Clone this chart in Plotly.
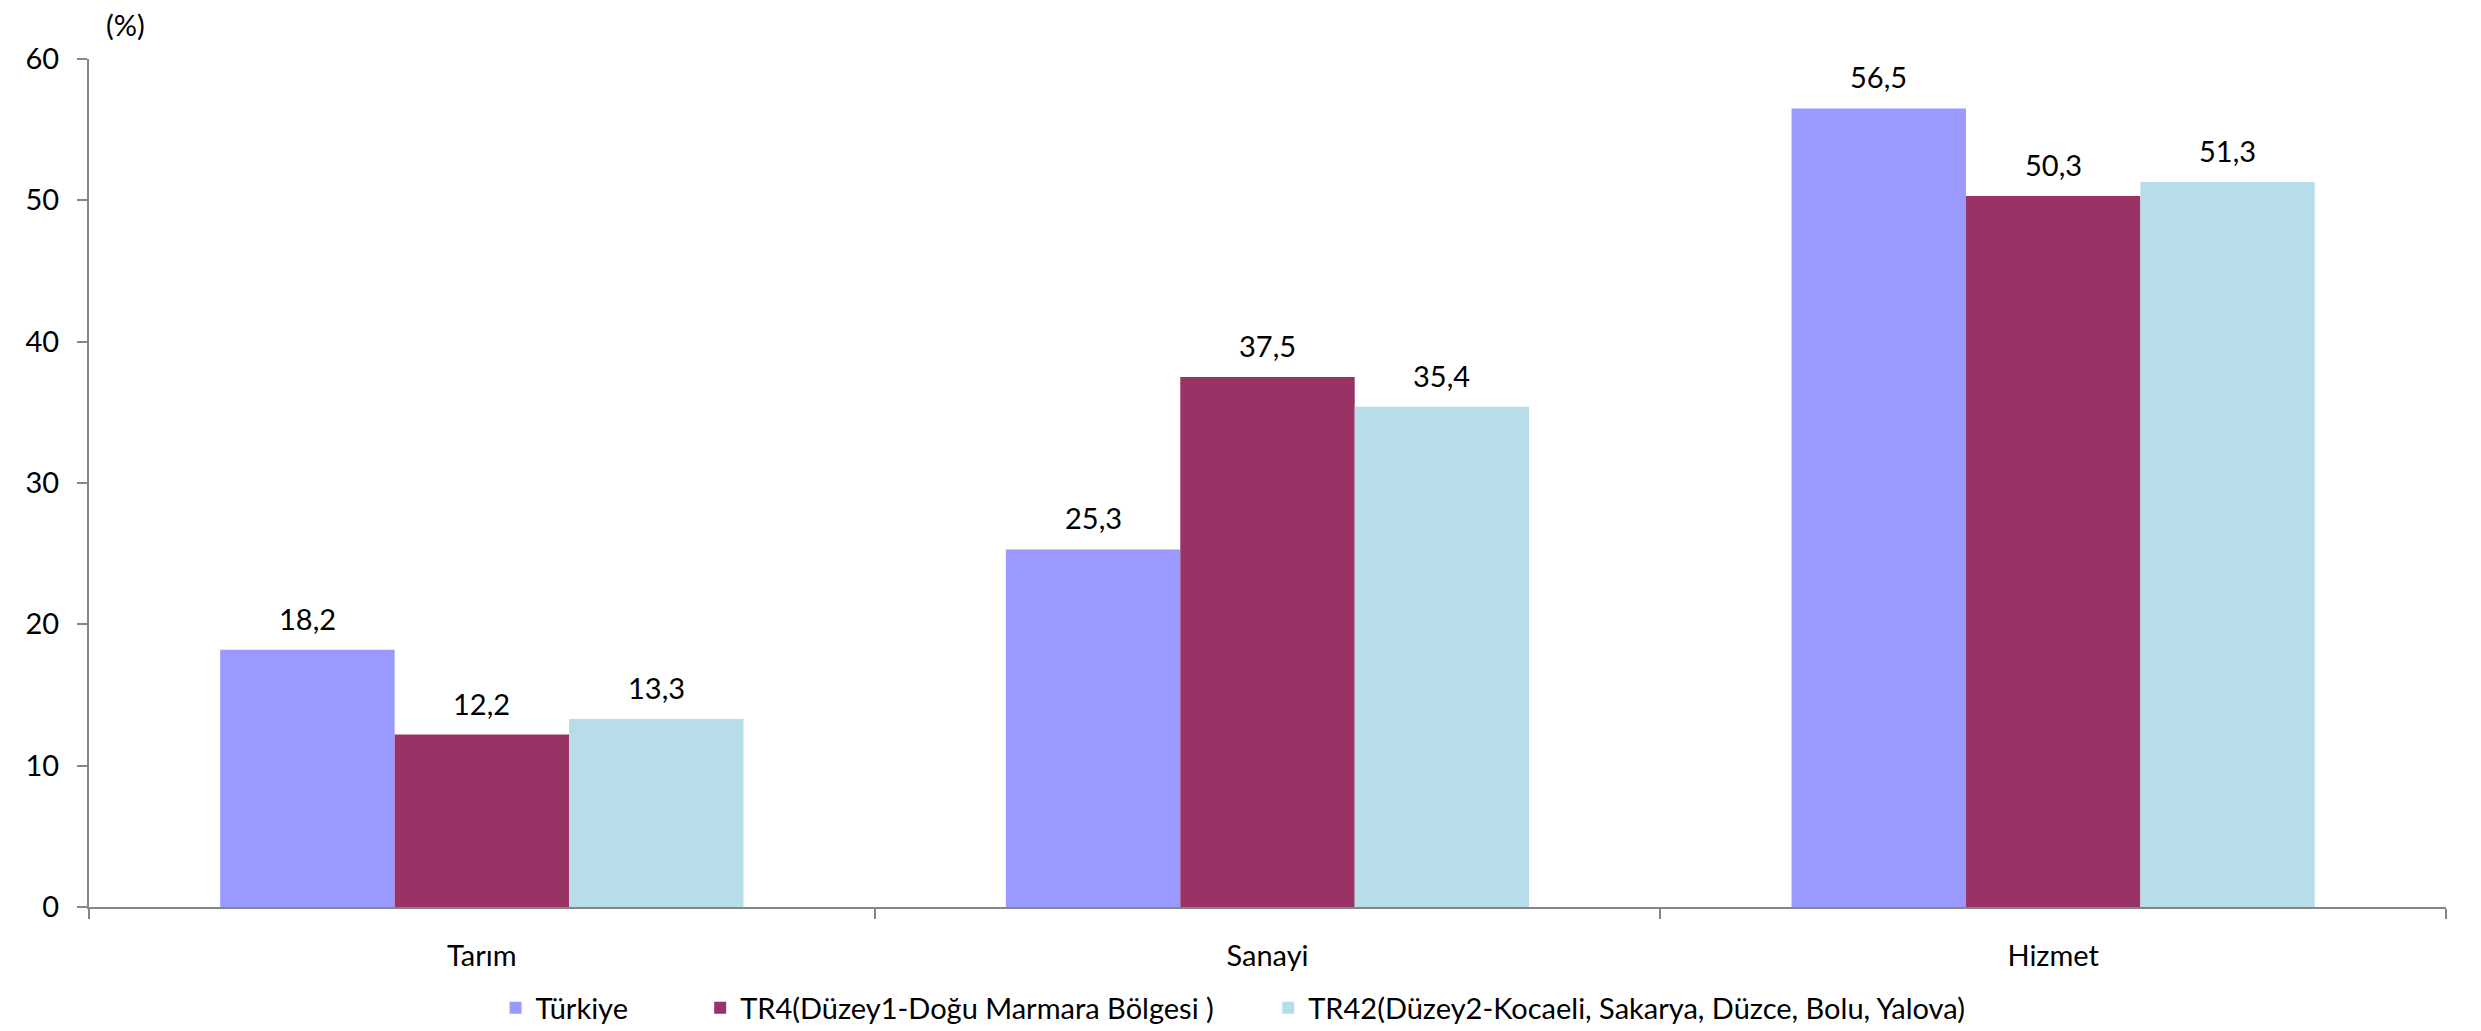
import plotly.graph_objects as go

categories = ["Tarım", "Sanayi", "Hizmet"]
series_names = [
    "Türkiye",
    "TR4(Düzey1-Doğu Marmara Bölgesi )",
    "TR42(Düzey2-Kocaeli, Sakarya, Düzce, Bolu, Yalova)",
]
turkiye = [18.2, 25.3, 56.5]
tr4 = [12.2, 37.5, 50.3]
tr42 = [13.3, 35.4, 51.3]
y_ticks = [0, 10, 20, 30, 40, 50, 60]

colors = ["#9999FF", "#993366", "#B7DEE8"]
FONT = "Lato"
FS = 29

# page body has an 8px margin; figure offset compensated in margins
W, H = 2465, 1031
ML, MR, MT, MB = 81, 27, 51, 132
BARGAP = 0.334
plot_w = W - ML - MR
bar_px = plot_w / len(categories) * (1 - BARGAP) / len(series_names)

legend_x = [0.1725, 0.2593, 0.5003]
legend_keys = ["legend", "legend2", "legend3"]

fig = go.Figure()
annotations = []
all_vals = [turkiye, tr4, tr42]
for i, (name, vals, col) in enumerate(zip(series_names, all_vals, colors)):
    fig.add_trace(go.Bar(
        x=categories, y=vals, name=name,
        marker=dict(color=col, line=dict(width=0)),
        legend=legend_keys[i], showlegend=True,
    ))
    for c, v in zip(categories, vals):
        annotations.append(dict(
            x=c, y=v, xref="x", yref="y", text=f"{v:.1f}".replace(".", ","),
            showarrow=False, xanchor="center", yanchor="bottom",
            xshift=(i - 1) * bar_px, yshift=12,
            font=dict(family=FONT, size=FS, color="#000000"),
        ))

annotations.append(dict(text="(%)", xref="paper", yref="paper", x=0.0153, y=1.0,
                        xanchor="center", yanchor="middle", yshift=35, showarrow=False,
                        font=dict(family=FONT, size=FS)))

legend_common = dict(orientation="h", xanchor="left", yref="container", y=1 - 1000 / H,
                     yanchor="middle", font=dict(family=FONT, size=FS),
                     bgcolor="rgba(0,0,0,0)")

fig.update_layout(
    width=W, height=H,
    margin=dict(l=ML, r=MR, t=MT, b=MB, autoexpand=False),
    paper_bgcolor="white", plot_bgcolor="white",
    barmode="group", bargap=BARGAP, bargroupgap=0,
    separators=",.",
    font=dict(family=FONT, size=FS, color="#000000"),
    legend=dict(x=legend_x[0], **legend_common),
    legend2=dict(x=legend_x[1], **legend_common),
    legend3=dict(x=legend_x[2], **legend_common),
    xaxis=dict(showline=True, linecolor="#868686", linewidth=2, ticks="outside",
               tickson="boundaries", ticklen=10, tickcolor="#868686", tickwidth=2,
               showgrid=False, ticklabelstandoff=22, tickfont=dict(family=FONT, size=FS)),
    yaxis=dict(range=[0, 60], tickvals=y_ticks, showline=True, linecolor="#868686",
               linewidth=2, ticks="outside", ticklen=10, tickcolor="#868686", tickwidth=2,
               showgrid=False, zeroline=False, ticklabelstandoff=12,
               tickfont=dict(family=FONT, size=FS)),
    annotations=annotations,
)

fig.write_html("out.html")
